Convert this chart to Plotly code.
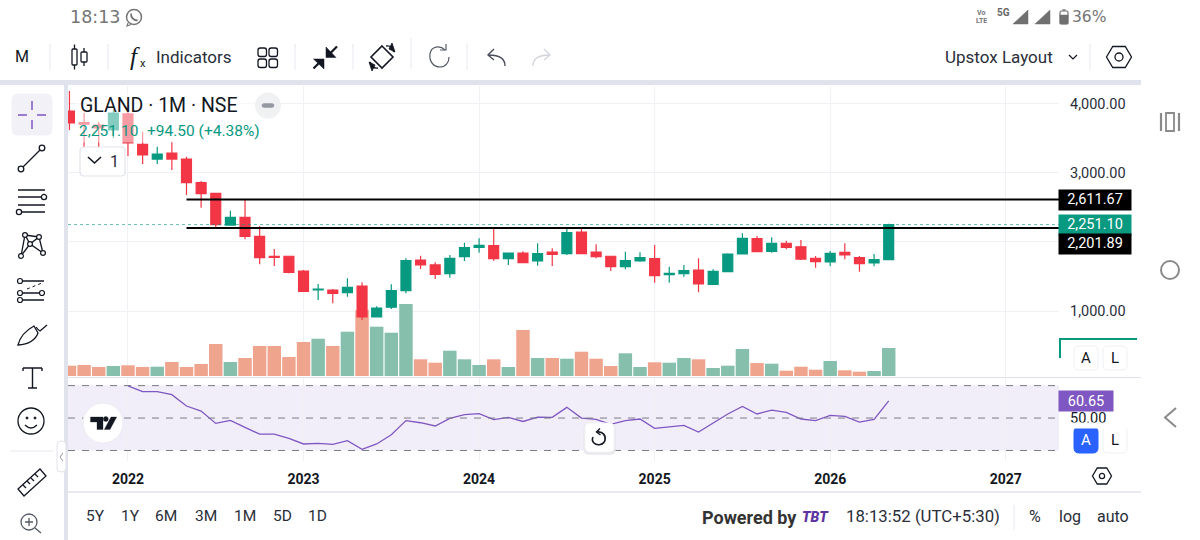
import re
import plotly.graph_objects as go

# monthly GLAND bars, Sep 2021 to May 2026
opens = [3894, 3725, 3691, 3619, 3851, 3412, 3199, 3286, 3199, 2857, 2703, 2244, 2356, 2081, 1792, 1792,
         1579, 1304, 1304, 1265, 1362, 913, 1054, 1294, 1738, 1666, 1540, 1786, 1922, 1945, 1757, 1839,
         1724, 1854, 1829, 2143, 1854, 1792, 1641, 1724, 1757, 1525, 1540, 1593, 1386, 1569, 1825, 2046,
         1864, 1980, 1930, 1763, 1709, 1849, 1771, 1695, 1742]
highs = [4183, 3865, 3735, 3908, 3981, 3594, 3377, 3450, 3233, 2881, 2703, 2451, 2606, 2230, 1897, 1792,
         1593, 1391, 1318, 1473, 1415, 1068, 1386, 1763, 1800, 1705, 1810, 1988, 2052, 2197, 1839, 1864,
         1980, 1907, 2197, 2197, 1965, 1792, 1858, 1849, 1955, 1641, 1666, 1763, 1603, 1835, 2124, 2085,
         2066, 2017, 2027, 1796, 1868, 1980, 1796, 1825, 2263]
lows = [3619, 3359, 3373, 3503, 3243, 3127, 3127, 3040, 2679, 2495, 2187, 2244, 2037, 1676, 1651, 1546,
        1279, 1159, 1111, 1207, 870, 913, 1029, 1256, 1608, 1463, 1482, 1724, 1844, 1728, 1666, 1699,
        1655, 1651, 1810, 1829, 1763, 1579, 1603, 1713, 1410, 1410, 1496, 1271, 1376, 1569, 1820, 1854,
        1844, 1893, 1738, 1627, 1651, 1748, 1569, 1647, 1742]
closes = [3720, 3702, 3648, 3865, 3431, 3257, 3272, 3199, 2857, 2697, 2249, 2356, 2081, 1771, 1777, 1560,
          1285, 1318, 1256, 1343, 913, 1043, 1294, 1728, 1666, 1531, 1763, 1916, 1951, 1757, 1839, 1699,
          1829, 1820, 2133, 1829, 1786, 1641, 1728, 1771, 1511, 1546, 1583, 1391, 1574, 1825, 2052, 1858,
          1980, 1922, 1752, 1713, 1835, 1810, 1684, 1742, 2251.10]
volume = [10.3, 11, 9, 10, 10.7, 9, 9.3, 14, 9, 12, 32, 14, 18, 30, 30, 19, 34, 37.3, 30, 44.3,
          66, 49.3, 43.3, 72, 16.7, 13.3, 25.3, 16.7, 11, 16.7, 9, 46, 18, 18, 17.3, 24.3, 17.3, 10, 22.7, 9,
          13.7, 13.3, 18, 16.7, 8, 10.3, 27, 13, 12.3, 5.3, 9.3, 6.3, 15, 5.7, 4.3, 5, 28]
# RSI only starts at the Jan 2022 bar
rsi = [69.8, 66.3, 66.3, 64.4, 57.4, 54.3, 46.7, 48.6, 44.2, 40.1, 40.1, 37.4,
       34, 34.4, 33.7, 36, 30.7, 34, 39.7, 48.4, 47.1, 45.1, 49.8, 52.1,
       52.7, 49, 50.4, 47.9, 50.6, 50.4, 56.6, 50, 49.2, 46.1, 48.4, 49.4,
       43.6, 44.4, 45.5, 41.4, 46.7, 52.5, 57.2, 52.5, 54.9, 53.5, 49.4, 48.4,
       51.6, 51, 47.5, 49.2, 60.65]
rsi_start = 4

year_ticks = [4, 16, 28, 40, 52, 64]
year_labels = ['2022', '2023', '2024', '2025', '2026', '2027']
price_ticks = [1000, 2000, 3000, 4000]
price_labels = ['1,000.00', '', '3,000.00', '4,000.00']
line_levels = [2611.67, 2201.89]
line_start = 8
last_price = 2251.10

GREEN = '#089981'
RED = '#F23645'
VOL_GREEN = '#86BFAC'
VOL_RED = '#EFA48D'
PURPLE = '#7E57C2'
DARK = '#131722'
GREY = '#E0E3EB'
FONT = 'Roboto'

bars = list(range(len(closes)))
x_range = [-0.1, 67.64]
vol_colors = [VOL_GREEN if c >= o else VOL_RED for o, c in zip(opens, closes)]

fig = go.Figure()
fig.add_trace(go.Bar(x=bars, y=volume, marker=dict(color=vol_colors, line=dict(width=0)), width=0.92,
                     yaxis='y', hoverinfo='skip'))
fig.add_trace(go.Candlestick(x=bars, open=opens, high=highs, low=lows, close=closes, yaxis='y2',
                             increasing=dict(line=dict(color=GREEN, width=1.2), fillcolor=GREEN),
                             decreasing=dict(line=dict(color=RED, width=1.2), fillcolor=RED),
                             whiskerwidth=0))
for level in line_levels:
    fig.add_trace(go.Scatter(x=[line_start, x_range[1]], y=[level, level], mode='lines', yaxis='y2',
                             line=dict(color='black', width=2), hoverinfo='skip'))
fig.add_trace(go.Scatter(x=x_range, y=[last_price, last_price], mode='lines', yaxis='y2',
                         line=dict(color=GREEN, width=1, dash='dot'), opacity=0.6, hoverinfo='skip'))
fig.add_trace(go.Scatter(x=bars[rsi_start:], y=rsi, mode='lines', yaxis='y3',
                         line=dict(color=PURPLE, width=1.3), hoverinfo='skip'))


# everything around the chart is placed in screen pixels
def fx(x):
    return x / 1200


def fy(y):
    return 1 - y / 540


shapes = []
notes = []


def path(d, color=DARK, width=1.3, fill=None, layer='above'):
    nums = iter(range(10000))

    def conv(m):
        v = float(m.group())
        return f'{fx(v):.5f}' if next(nums) % 2 == 0 else f'{fy(v):.5f}'
    shapes.append(dict(type='path', xref='paper', yref='paper', layer=layer,
                       path=re.sub(r'-?\d+\.?\d*', conv, d),
                       line=dict(color=color, width=width), fillcolor=fill or 'rgba(0,0,0,0)'))


def rrect(x0, y0, x1, y1, r=3, color=GREY, width=1, fill=None):
    d = (f'M{x0 + r} {y0} L{x1 - r} {y0} Q{x1} {y0} {x1} {y0 + r} L{x1} {y1 - r} Q{x1} {y1} {x1 - r} {y1} '
         f'L{x0 + r} {y1} Q{x0} {y1} {x0} {y1 - r} L{x0} {y0 + r} Q{x0} {y0} {x0 + r} {y0} Z')
    path(d, color, width, fill)


def circle(cx, cy, r, color=DARK, width=1.3, fill=None):
    shapes.append(dict(type='circle', xref='paper', yref='paper', x0=fx(cx - r), x1=fx(cx + r),
                       y0=fy(cy + r), y1=fy(cy - r), line=dict(color=color, width=width),
                       fillcolor=fill or 'rgba(0,0,0,0)'))


def text(x, y, s, size=15, color=DARK, anchor='center', family=FONT, weight=None, **kw):
    font = dict(size=size, color=color, family=family)
    if weight:
        font['weight'] = weight
    notes.append(dict(xref='paper', yref='paper', x=fx(x), y=fy(y), text=s, showarrow=False, xanchor=anchor,
                      yanchor='middle', font=font, **kw))


def hexagon(cx, cy, w, h, r):
    q = w / 4
    path(f'M{cx - w / 2} {cy} L{cx - q} {cy - h / 2} L{cx + q} {cy - h / 2} L{cx + w / 2} {cy} '
         f'L{cx + q} {cy + h / 2} L{cx - q} {cy + h / 2} Z')
    circle(cx, cy, r)


# RSI band and its dashed levels
shapes.append(dict(type='rect', xref='x domain', yref='y3', x0=0, x1=1, y0=30, y1=70, layer='below',
                   fillcolor='rgba(126,87,194,0.1)', line=dict(width=0)))
for lvl in [30, 50, 70]:
    shapes.append(dict(type='line', xref='x domain', yref='y3', x0=0, x1=1, y0=lvl, y1=lvl, layer='above',
                       line=dict(color='#787B86', width=1, dash='7px,7px')))

# frame
path('M0 82.5 L1141 82.5', GREY, 5)
path('M66 85 L66 540', GREY, 4)
path('M68 492 L1141 492', GREY, 1.5)
path('M1059 377.5 L1141 377.5', GREY, 1)
path('M68 377.5 L1059 377.5', GREY, 1)

# status bar
text(95, 17, '18:13', 17.5, '#757575', family='DejaVu Sans')
circle(134, 17, 7.5, '#757575', 1.5)
path('M128 23 L127 26 L131 24.5', '#757575', 1.2)
path('M131 13.5 Q131 20 137.5 20.5', '#757575', 1.8)
text(981, 13, 'Vo', 7, '#757575', weight=700)
text(981, 21, 'LTE', 7, '#757575', weight=700)
text(1003, 13, '5G', 10, '#666666', weight=700)
path('M1013 24 L1028 10 L1028 24 Z', '#707070', 0.5, '#707070')
path('M1035 24 L1050 10 L1050 24 Z', '#707070', 0.5, '#707070')
rrect(1060, 11, 1068, 24, 1.5, '#707070', 1.2)
path('M1060 15 L1068 15 L1068 24 L1060 24 Z', '#707070', 0.5, '#707070')
path('M1062.5 10 L1065.5 10', '#707070', 1.5)
text(1088.5, 17, '36%', 15.5, '#757575', family='DejaVu Sans')

# top toolbar
for xd in [50, 108, 295, 353, 467, 1090]:
    path(f'M{xd} 44 L{xd} 70', '#E6E8EE', 1)
path('M411 38 L411 68', '#E6E8EE', 1)
text(22, 57, 'M', 16)
rrect(72, 49, 77, 65, 1, DARK, 1.3)
rrect(81, 52, 87, 62, 1, DARK, 1.3)
for d in ['M74.5 44.5 L74.5 49', 'M74.5 65 L74.5 69.5', 'M84 48 L84 52', 'M84 62 L84 66']:
    path(d)
text(135, 56, 'f', 25, DARK, family='Liberation Serif')
notes[-1]['font']['style'] = 'italic'
text(143, 63, 'x', 11)
text(194, 57, 'Indicators', 17, '#2A2E39')
for sx, sy in [(258, 48), (269, 48), (258, 59), (269, 59)]:
    rrect(sx, sy, sx + 8.5, sy + 8.5, 2.2, DARK, 1.3)
path('M337 46.5 L329 54.5', DARK, 2.2)
path('M326 47 L326 57.5 L336 57.5 Z', DARK, 0.5, DARK)
path('M313.5 68.5 L321.5 60.5', DARK, 2.2)
path('M313.5 59 L324 59 L324 69 Z', DARK, 0.5, DARK)
path('M382 46 L393 57 L382 68 L371 57 Z', DARK, 1.6)
path('M386 46 Q392 45 394 52', DARK, 1.4)
path('M378 68 Q372 69 370 62', DARK, 1.4)
path('M392 43 L395 52 L389 49 Z', DARK, 0.8, DARK)
path('M372 71 L369 62 L375 65 Z', DARK, 0.8, DARK)
path('M445 50 C440 45 431 46 430 54 C429 62 434 67 440 67 C446 67 449 62 449 57', '#555A66', 1.2)
path('M440 50 L446 50 L446 44', '#555A66', 1.2)
path('M505 66 Q505 55 489 55 M494 49 L488 55 L494 60', '#4A4E5A', 1.4)
path('M533 66 Q533 55 549 55 M544 49 L550 55 L544 60', '#D1D4DC', 1.3)
text(999, 56.5, 'Upstox Layout', 17, '#2A2E39')
path('M1069 55 L1073 59 L1077 55', DARK, 1.2)
hexagon(1119, 57, 25, 21, 4)

# right nav bar of the phone
nav = '#8A8A8A'
path('M1161 113 L1161 131 M1179 113 L1179 131', nav, 2.2)
path('M1166 113 L1174 113 L1174 131 L1166 131 Z', nav, 1.8)
circle(1170, 270, 9, nav, 2)
path('M1176 408 L1165 417.5 L1176 427', nav, 2)

# left drawing tools
rrect(12, 94, 52, 135, 6, '#F3F1F8', 1, '#F3F1F8')
path('M18 115 L27 115 M37 115 L46 115 M32 101 L32 110 M32 120 L32 129', PURPLE, 1.5)
circle(21, 169, 2.8)
circle(42, 148, 2.8)
path('M23 167 L40 150')
path('M18 190 L45 190 M18 197 L41 197 M18 205 L45 205 M22 212 L45 212')
circle(44, 197, 2.6)
circle(19, 212, 2.6)
path('M21 256 L25 235 L30 244 L39 237 L43 253 L30 244 L21 256 M25 235 L39 237')
for px, py in [(21, 256), (25, 235), (30, 244), (39, 237), (43, 253)]:
    circle(px, py, 2.4, DARK, 1.2, 'white')
path('M23 281 L44 281 M23 293 L39 293 M23 300 L44 300')
path('M27 289 L42 283', DARK, 1, None)
shapes[-1]['line']['dash'] = 'dot'
for px, py in [(20, 281), (20, 293), (20, 300), (42, 293)]:
    circle(px, py, 2.5, DARK, 1.2, 'white')
path('M18 345 Q21 333 34 326 L38 333 Q34 344 18 345 Z')
path('M36 327 Q38 330 40 331 L47 325')
path('M23 368 L42 368 M32.5 368 L32.5 388 M28 388 L37 388 M23 368 L23 371 M42 368 L42 371', DARK, 1.4)
circle(31, 421, 13)
circle(27, 418, 1, DARK, 1, DARK)
circle(35, 418, 1, DARK, 1, DARK)
path('M25 425 Q31 431 37 425')
path('M10 451 L53 451', '#E6E8EE', 1)
rrect(57, 441, 66, 472, 4, GREY, 1, 'white')
path('M63 453 L60 457 L63 461', '#9598A1', 1)
path('M18 489 L40 469 L46 476 L24 496 Z')
path('M23 485 L26 488 M27 481 L30 484 M31 478 L34 481 M35 474 L38 477')
circle(29, 522, 8, '#555A66')
path('M29 518 L29 526 M25 522 L33 522 M35 528 L41 533', '#555A66')

# legend with its fading panel over the candles
path('M76 93 L262 93 L262 142.5 L76 142.5 Z', 'rgba(0,0,0,0)', 0, 'rgba(255,255,255,0.5)')
text(77.5, 105.5, 'GLAND · 1M · NSE', 19.5, DARK, anchor='left')
text(76.5, 131.5, '2,251.10', 15.5, GREEN, anchor='left')
text(144.5, 131.5, '+94.50 (+4.38%)', 15.5, GREEN, anchor='left')
circle(268, 105.5, 13, '#F0F1F3', 0, '#F0F1F3')
rrect(262, 103.5, 274, 107.5, 2, '#9598A1', 0.5, '#9598A1')
rrect(80, 147, 125, 176, 4, GREY, 1.2, 'white')
path('M88 157 L94.5 163 L101 157', DARK, 1.6)
text(114, 161, '1', 16, '#2A2E39')

# price tags
for tag_y, label, col in [(199.5, '2,611.67', 'black'), (224.5, '2,251.10', GREEN), (244.5, '2,201.89', 'black')]:
    notes.append(dict(xref='paper', yref='paper', x=fx(1095), y=fy(tag_y), text=label, showarrow=False,
                      xanchor='center', yanchor='middle', width=72, height=19.5, bgcolor=col, borderpad=0,
                      font=dict(size=14.5, color='white', family=FONT)))

# blank strip that cuts off the foot of the 50.00 label
notes.append(dict(xref='paper', yref='paper', x=fx(1095), y=fy(425), text=' ', showarrow=False, xanchor='center',
                  yanchor='middle', width=60, height=5, bgcolor='white', borderpad=0, font=dict(size=4)))

# scale buttons
path('M1060 358 L1060 339 L1137 339', GREEN, 2)
for bx, by, label in [(1086, 358, 'A'), (1115, 358, 'L')]:
    rrect(bx - 12, by - 12, bx + 12, by + 12, 5, '#EEF0F4', 1, 'white')
    text(bx, by, label, 15)
notes.append(dict(xref='paper', yref='paper', x=fx(1086), y=fy(401), text='60.65', showarrow=False,
                  xanchor='center', yanchor='middle', width=54, height=20, bgcolor=PURPLE, borderpad=0,
                  font=dict(size=14.5, color='white', family=FONT)))
rrect(1103, 427, 1127, 453, 5, '#EEF0F4', 1, 'white')
text(1115, 440, 'L', 15)
rrect(1074, 427, 1098, 453, 5, '#2962FF', 1, '#2962FF')
text(1086, 440, 'A', 15, 'white')
hexagon(1102, 476, 19, 16, 2.6)

# TradingView badge and the reset button
circle(103, 423, 20, '#ECECF2', 1, 'white')
path('M90.5 417 L103 417 L103 429.5 L97 429.5 L97 422 L90.5 422 Z', DARK, 0.3, DARK)
circle(105.8, 419, 2.5, DARK, 0.3, DARK)
path('M111 417 L116.7 417 L110 429.5 L104.3 429.5 Z', DARK, 0.3, DARK)
rrect(584, 424, 615, 454, 5, '#E8E8EE', 1.5, '#E8E8EE')
rrect(585, 423, 614, 452, 5, '#F4F4F6', 1, 'white')
path('M597 432 C603 431 606 436 605 440 C604 445 597 446 594 443 C592 441 592 439 593 437', DARK, 1.6)
path('M600 428.5 L596.5 432 L600.5 435', DARK, 1.4)

# bottom bar
for xr, label in zip([95, 130, 166, 206, 245, 282, 317], ['5Y', '1Y', '6M', '3M', '1M', '5D', '1D']):
    text(xr, 516, label, 15.5, '#2A2E39')
text(749.5, 517, 'Powered by', 18, '#333333', weight=700)
text(815, 517, 'TBT', 14, '#5E35A0', weight=900)
notes[-1]['font']['style'] = 'italic'
text(922.5, 516, '18:13:52 (UTC+5:30)', 16.8, '#2A2E39')
path('M1014 505 L1014 530', '#E6E8EE', 1)
text(1035, 516, '%', 16, '#2A2E39')
text(1070, 516, 'log', 16, '#2A2E39')
text(1113, 516, 'auto', 16, '#2A2E39')

fig.update_layout(
    width=1200, height=540, autosize=False, margin=dict(l=0, r=0, t=0, b=0),
    paper_bgcolor='white', plot_bgcolor='white', showlegend=False, barmode='overlay',
    boxgap=0.2, boxgroupgap=0.15,
    dragmode=False, shapes=shapes, annotations=notes,
    xaxis=dict(domain=[fx(68), fx(1059)], range=x_range, anchor='y3', tickmode='array', tickvals=year_ticks,
               ticktext=year_labels, showgrid=True, gridcolor='#F0F1F5', gridwidth=1, zeroline=False,
               showline=False, ticks='', rangeslider=dict(visible=False), ticklabelstandoff=8,
               tickfont=dict(family=FONT, size=14, color=DARK, weight=700)),
    yaxis=dict(domain=[fy(376), fy(86)], range=[0, 290], showgrid=False, zeroline=False, showticklabels=False,
               fixedrange=True),
    yaxis2=dict(overlaying='y', side='right', anchor='x', range=[59.45, 4255.75], tickmode='array',
                tickvals=price_ticks, ticktext=price_labels, showgrid=True, gridcolor='#F0F1F5', zeroline=False,
                ticks='', ticklabelstandoff=10, tickfont=dict(family=FONT, size=14.5, color='#2A2E39'),
                fixedrange=True),
    yaxis3=dict(domain=[fy(461), fy(378)], side='right', anchor='x', range=[23.5, 74.7], tickmode='array',
                tickvals=[50], ticktext=['50.00'], showgrid=False, zeroline=False, ticks='', ticklabelstandoff=10,
                tickfont=dict(family=FONT, size=14.5, color=DARK), fixedrange=True),
)

fig.write_html('out.html', config=dict(displayModeBar=False),
               post_script="document.body.style.margin='0';document.body.style.overflow='hidden';")
